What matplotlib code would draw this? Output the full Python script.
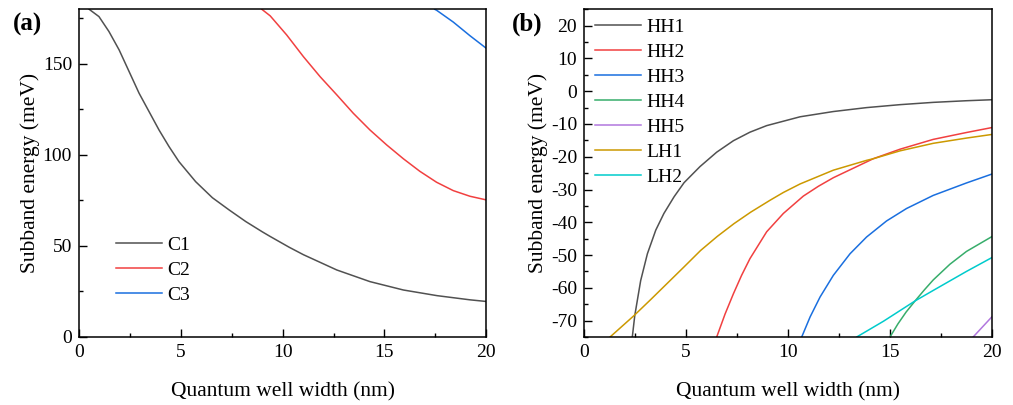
import numpy as np
import matplotlib.pyplot as plt
from matplotlib.ticker import MultipleLocator

plt.rcParams.update({'font.family': ['Liberation Serif', 'DejaVu Serif'],
                     'font.size': 14,
                     'axes.unicode_minus': False,
                     'axes.linewidth': 1.1,
                     'xtick.direction': 'in',
                     'ytick.direction': 'in',
                     'xtick.major.size': 6,
                     'ytick.major.size': 6,
                     'xtick.minor.size': 3,
                     'ytick.minor.size': 3,
                     'xtick.major.width': 1.0,
                     'ytick.major.width': 1.0,
                     'xtick.minor.width': 1.0,
                     'ytick.minor.width': 1.0})

# ---- panel (a): conduction subbands ----
c1_x = [0.5, 0.98, 1.47, 1.97, 2.46, 2.95, 3.44, 3.93, 4.42, 4.91, 5.73, 6.55, 7.37, 8.19, 9.01,
        9.39, 10.32, 11.02, 12.66, 14.29, 15.93, 17.58, 19.2, 20.0]
c1_y = [180, 176, 167.8, 157.7, 145.8, 133.9, 123.8, 113.7, 104.6, 96.3, 85.3, 76.5, 69.8, 63.4, 57.7,
        55.2, 49.3, 45.2, 36.8, 30.4, 25.8, 22.7, 20.4, 19.5]
c2_x = [8.98, 9.39, 10.2, 11.02, 11.84, 12.66, 13.47, 14.29, 15.11, 15.93, 16.74, 17.56, 18.38, 19.2, 20.0]
c2_y = [180, 176.4, 165.9, 154, 143, 133, 122.9, 113.7, 105.5, 97.9, 91.0, 85.0, 80.4, 77.3, 75.3]
c3_x = [17.47, 17.56, 18.38, 19.2, 20.0]
c3_y = [180, 179.5, 173.0, 165.5, 158.6]

# ---- panel (b): valence subbands ----
hh1_x = [2.37, 2.49, 2.78, 3.11, 3.52, 3.92, 4.42, 4.91, 5.69, 6.51, 7.33, 8.14, 8.96, 10.6, 12.23,
         13.86, 15.5, 17.13, 18.76, 20.0]
hh1_y = [-75, -68.5, -57.8, -49.6, -42.4, -37.3, -32.2, -27.9, -23.0, -18.6, -15.1, -12.5, -10.5, -7.8, -6.2,
         -5.0, -4.1, -3.4, -2.9, -2.6]
hh2_x = [6.51, 6.92, 7.33, 7.73, 8.14, 8.96, 9.78, 10.76, 11.5, 12.23, 14.19, 15.5, 17.13, 18.76, 20.0]
hh2_y = [-75, -68, -61.8, -56.2, -51.1, -42.9, -37.3, -32.0, -29.0, -26.4, -20.6, -17.7, -14.7, -12.6, -11.1]
hh3_x = [10.68, 11.09, 11.58, 12.23, 13.05, 13.86, 14.84, 15.82, 17.13, 18.76, 20.0]
hh3_y = [-75, -68.9, -62.8, -56.2, -49.6, -44.5, -39.6, -35.8, -31.8, -28.0, -25.3]
hh4_x = [15.01, 15.4, 15.8, 16.24, 16.7, 17.13, 17.95, 18.76, 20.0]
hh4_y = [-75, -71.0, -67.4, -64.0, -60.6, -57.6, -52.8, -48.9, -44.4]
hh5_x = [19.09, 20.0]
hh5_y = [-75, -68.9]
lh1_x = [1.28, 2.45, 3.27, 4.09, 4.91, 5.72, 6.54, 7.36, 8.18, 9.12, 9.78, 10.6, 12.23, 13.86, 14.19,
         15.5, 17.13, 18.76, 20.0]
lh1_y = [-75, -68.5, -63.6, -58.6, -53.6, -48.6, -44.3, -40.4, -36.9, -33.3, -30.9, -28.3, -24.1, -21.1, -20.6,
         -18.2, -15.9, -14.3, -13.2]
lh2_x = [13.38, 14.69, 16.24, 17.13, 18.76, 20.0]
lh2_y = [-75, -70.2, -64.0, -60.8, -55.0, -50.8]

colors = {'C1': '#515151', 'C2': '#F14040', 'C3': '#1A6FDF',
          'HH1': '#515151', 'HH2': '#F14040', 'HH3': '#1A6FDF', 'HH4': '#37AD6B',
          'HH5': '#B177DE', 'LH1': '#CC9900', 'LH2': '#00CBCC'}
lw = 1.1

fig = plt.figure(figsize=(10.13, 4.05), dpi=100)
ax1 = fig.add_axes([0.078, 0.168, 0.402, 0.809])
ax2 = fig.add_axes([0.5765, 0.168, 0.4025, 0.809])

ax1.plot(c1_x, c1_y, color=colors['C1'], lw=lw, label='C1')
ax1.plot(c2_x, c2_y, color=colors['C2'], lw=lw, label='C2')
ax1.plot(c3_x, c3_y, color=colors['C3'], lw=lw, label='C3')
ax1.set_xlim(0, 20)
ax1.set_ylim(0, 180)
ax1.yaxis.set_major_locator(MultipleLocator(50))
ax1.yaxis.set_minor_locator(MultipleLocator(25))

for name, xs, ys in [('HH1', hh1_x, hh1_y), ('HH2', hh2_x, hh2_y), ('HH3', hh3_x, hh3_y),
                     ('HH4', hh4_x, hh4_y), ('HH5', hh5_x, hh5_y), ('LH1', lh1_x, lh1_y),
                     ('LH2', lh2_x, lh2_y)]:
    ax2.plot(xs, ys, color=colors[name], lw=lw, label=name)
ax2.set_xlim(0, 20)
ax2.set_ylim(-75, 25)
ax2.yaxis.set_major_locator(MultipleLocator(10))
ax2.yaxis.set_minor_locator(MultipleLocator(5))

for ax in (ax1, ax2):
    ax.xaxis.set_major_locator(MultipleLocator(5))
    ax.xaxis.set_minor_locator(MultipleLocator(2.5))
    ax.tick_params(which='both', top=False, right=False, labelsize=14, pad=5)
    ax.set_xlabel('Quantum well width (nm)', fontsize=15.5, labelpad=15)
    ax.set_ylabel('Subband energy (meV)', fontsize=15.5, labelpad=2)

ax1.legend(loc='upper left', bbox_to_anchor=(0.091, 0.308), frameon=False, fontsize=14,
           handlelength=2.35, handletextpad=0.3, labelspacing=0.38, borderpad=0, borderaxespad=0)
ax2.legend(loc='upper left', bbox_to_anchor=(0.027, 0.973), frameon=False, fontsize=14,
           handlelength=2.35, handletextpad=0.3, labelspacing=0.38, borderpad=0, borderaxespad=0)

fig.text(0.013, 0.94, '(a)', fontsize=18, fontweight='bold', va='center', ha='left')
fig.text(0.505, 0.94, '(b)', fontsize=18, fontweight='bold', va='center', ha='left')

plt.savefig('out.png', dpi=100)
